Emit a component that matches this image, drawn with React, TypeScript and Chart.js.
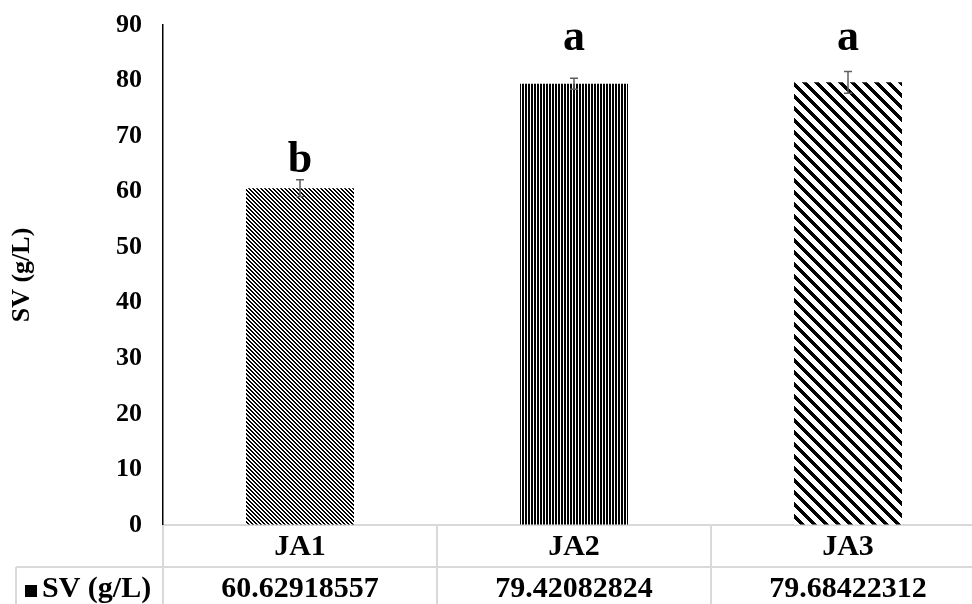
import React, { useEffect, useRef } from 'react';
import { Chart, registerables } from 'chart.js';

Chart.register(...registerables);

const categories = ['JA1', 'JA2', 'JA3'];
const values = [60.62918557, 79.42082824, 79.68422312];
const valueLabels = ['60.62918557', '79.42082824', '79.68422312'];
const errors = [1.5, 1.0, 1.95];
const letters = ['b', 'a', 'a'];
const letterValues = [63.5, 85.5, 85.5];
const seriesName = 'SV (g/L)';
const yMin = 0;
const yMax = 90;
const yStep = 10;

const FONT = '"Liberation Serif", "Times New Roman", serif';

function makePattern(
  ctx: CanvasRenderingContext2D,
  w: number,
  h: number,
  isBlack: (x: number, y: number) => boolean
) {
  const c = document.createElement('canvas');
  c.width = w;
  c.height = h;
  const g = c.getContext('2d')!;
  g.fillStyle = '#ffffff';
  g.fillRect(0, 0, w, h);
  g.fillStyle = '#000000';
  for (let y = 0; y < h; y++) {
    for (let x = 0; x < w; x++) {
      if (isBlack(x, y)) g.fillRect(x, y, 1, 1);
    }
  }
  return ctx.createPattern(c, 'repeat') as CanvasPattern;
}

export default function App() {
  const ref = useRef<HTMLCanvasElement>(null);

  useEffect(() => {
    const canvas = ref.current!;
    const ctx = canvas.getContext('2d')!;

    const patterns = [
      makePattern(ctx, 4, 4, (x, y) => (x - y + 8) % 4 < 2),
      makePattern(ctx, 3, 1, (x) => x < 2),
      makePattern(ctx, 12, 12, (x, y) => (x - y + 24) % 12 < 5),
    ];

    const overlay = {
      id: 'overlay',
      afterDatasetsDraw(chart: any) {
        const c = chart.ctx as CanvasRenderingContext2D;
        const ys = chart.scales.y;
        const meta = chart.getDatasetMeta(0);
        c.save();
        c.strokeStyle = '#5f5f5f';
        c.lineWidth = 1.5;
        meta.data.forEach((bar: any, i: number) => {
          const x = bar.x;
          const t = ys.getPixelForValue(values[i] + errors[i]);
          const b = ys.getPixelForValue(values[i] - errors[i]);
          c.beginPath();
          c.moveTo(x, t);
          c.lineTo(x, b);
          c.moveTo(x - 4, t);
          c.lineTo(x + 4, t);
          c.moveTo(x - 4, b);
          c.lineTo(x + 4, b);
          c.stroke();
        });
        c.fillStyle = '#000';
        c.font = 'bold 44px ' + FONT;
        c.textAlign = 'center';
        c.textBaseline = 'alphabetic';
        meta.data.forEach((bar: any, i: number) => {
          c.fillText(letters[i], bar.x, ys.getPixelForValue(letterValues[i]));
        });
        c.restore();
      },
      afterDraw(chart: any) {
        const c = chart.ctx as CanvasRenderingContext2D;
        const xs = chart.scales.x;
        const n = categories.length;
        const cw = (xs.right - xs.left) / n;
        const top = chart.chartArea.bottom;
        const rowH = 42;
        const H = chart.height;
        c.save();
        c.strokeStyle = '#d9d9d9';
        c.lineWidth = 2;
        c.beginPath();
        for (let i = 0; i <= n; i++) {
          const x = xs.left + i * cw;
          c.moveTo(x, top);
          c.lineTo(x, H);
        }
        c.moveTo(16, top + rowH);
        c.lineTo(xs.right, top + rowH);
        c.moveTo(16, top + rowH);
        c.lineTo(16, H);
        c.stroke();

        c.fillStyle = '#000';
        c.font = 'bold 30px ' + FONT;
        c.textAlign = 'center';
        c.textBaseline = 'middle';
        categories.forEach((cat, i) => {
          const xc = xs.getPixelForValue(i);
          c.fillText(cat, xc, top + rowH / 2 + 1);
          c.fillText(valueLabels[i], xc, top + rowH * 1.5 + 1);
        });
        c.fillRect(25, top + rowH + 18, 12, 12);
        c.textAlign = 'left';
        c.fillText(seriesName, 42, top + rowH * 1.5 + 1);
        c.restore();
      },
    };

    const chart = new Chart(ctx, {
      type: 'bar',
      data: {
        labels: categories,
        datasets: [
          {
            label: seriesName,
            data: values,
            backgroundColor: patterns,
            borderWidth: 0,
            categoryPercentage: 1,
            barPercentage: 0.394,
          },
        ],
      },
      options: {
        responsive: false,
        animation: false,
        devicePixelRatio: 1,
        layout: { padding: { top: 25, left: 0, right: 0, bottom: 0 } },
        plugins: {
          legend: { display: false },
          tooltip: { enabled: false },
        },
        scales: {
          x: {
            grid: { display: false, drawTicks: false },
            ticks: { display: false },
            border: { display: true, color: '#d9d9d9', width: 2 },
            afterFit: (s: any) => {
              s.height = 95;
            },
          },
          y: {
            min: yMin,
            max: yMax,
            grid: {
              display: true,
              drawOnChartArea: false,
              drawTicks: true,
              tickLength: 21,
              color: 'rgba(0,0,0,0)',
            },
            border: { display: true, color: '#000', width: 1.5 },
            ticks: {
              stepSize: yStep,
              color: '#000',
              padding: 0,
              font: { family: FONT, size: 26, weight: 'bold' },
            },
            title: {
              display: true,
              text: seriesName,
              color: '#000',
              font: { family: FONT, size: 26, weight: 'bold' },
              padding: { top: 7, bottom: 0 },
            },
            afterFit: (s: any) => {
              s.width = 163;
            },
          },
        },
      },
      plugins: [overlay],
    } as any);

    return () => chart.destroy();
  }, []);

  return (
    <div
      style={{
        position: 'fixed',
        left: 0,
        top: 0,
        width: 972,
        height: 604,
        overflow: 'hidden',
        background: '#fff',
      }}
    >
      <canvas ref={ref} width={985} height={620} style={{ display: 'block', width: 985, height: 620 }} />
    </div>
  );
}
